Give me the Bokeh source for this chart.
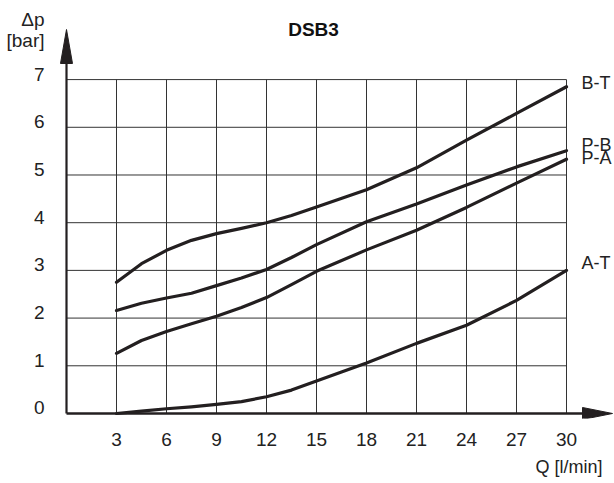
from bokeh.plotting import figure
from bokeh.models import Range1d, FixedTicker, Label, LinearAxis
from bokeh.embed import file_html
from bokeh.resources import INLINE

# ---- data ----
q = [3, 4.5, 6, 7.5, 9, 10.5, 12, 13.5, 15, 18, 21, 24, 27, 30]
bt = [2.75, 3.14, 3.42, 3.63, 3.77, 3.88, 4.00, 4.15, 4.33, 4.69, 5.15, 5.73, 6.29, 6.85]
pb = [2.16, 2.31, 2.42, 2.52, 2.68, 2.84, 3.02, 3.27, 3.54, 4.02, 4.39, 4.79, 5.17, 5.51]
pa = [1.26, 1.53, 1.72, 1.88, 2.04, 2.22, 2.43, 2.70, 2.98, 3.43, 3.84, 4.32, 4.83, 5.33]
at = [0.0, 0.05, 0.10, 0.14, 0.19, 0.25, 0.35, 0.49, 0.68, 1.06, 1.47, 1.85, 2.37, 3.00]
series = [("B-T", bt, 4), ("P-B", pb, 6), ("P-A", pa, 1), ("A-T", at, 7)]
x_ticks = [3, 6, 9, 12, 15, 18, 21, 24, 27, 30]
y_ticks = [0, 1, 2, 3, 4, 5, 6, 7]
title_text = "DSB3"
y_unit_labels = {7.82: "[bar]", 8.26: "\u0394p"}
x_unit_label = {30.15: "Q [l/min]"}

FONT = "Liberation Sans"
INK = "#231f20"
TXT = "#222222"
PX_X = 16.667  # px per Q unit
PX_Y = 47.7    # px per bar
Y_LABEL_LIFT = 5.5 / PX_Y  # numbers sit slightly above their grid line

p = figure(width=614, height=483, output_backend="svg", toolbar_location=None,
           x_range=Range1d(-1.08, 32.88), y_range=Range1d(-0.105, 8.658),
           min_border_left=48, min_border_right=0, min_border_top=0,
           min_border_bottom=65)
p.outline_line_color = None
p.grid.visible = False
p.background_fill_color = "white"
p.border_fill_color = "white"

x2 = LinearAxis()
p.add_layout(x2, "below")


def style_axis(ax, ticks, size="19px"):
    ax.ticker = FixedTicker(ticks=ticks)
    ax.axis_line_color = None
    ax.major_tick_line_color = None
    ax.minor_tick_line_color = None
    ax.major_tick_out = 0
    ax.major_tick_in = 0
    ax.major_label_text_font = FONT
    ax.major_label_text_font_size = size
    ax.major_label_text_color = TXT


style_axis(p.xaxis[0], x_ticks)
y_label_pos = [v + Y_LABEL_LIFT for v in y_ticks]
overrides = {pos: str(v) for pos, v in zip(y_label_pos, y_ticks)}
overrides.update(y_unit_labels)
style_axis(p.yaxis[0], y_label_pos + list(y_unit_labels.keys()))
p.yaxis[0].major_label_overrides = overrides
style_axis(x2, list(x_unit_label.keys()), "18px")
x2.major_label_overrides = dict(x_unit_label)
x2.major_label_standoff = 8
p.xaxis[0].major_label_standoff = 14
p.yaxis[0].major_label_standoff = 4

# grid segments
xmax = x_ticks[-1]
ymax = y_ticks[-1]
p.segment(x0=x_ticks, y0=[0] * len(x_ticks), x1=x_ticks, y1=[ymax] * len(x_ticks),
          line_color="#333333", line_width=1)
hy = y_ticks[1:]
p.segment(x0=[0] * len(hy), y0=hy, x1=[xmax] * len(hy), y1=hy,
          line_color="#333333", line_width=1)

# axis arrows
x_tip = 32.76
y_tip = 8.05
p.line(x=[0, x_tip - 1.0], y=[0, 0], line_color=INK, line_width=2.5)
p.line(x=[0, 0], y=[0, y_tip - 0.4], line_color=INK, line_width=2.2)
p.patch(x=[x_tip, x_tip - 30 / PX_X, x_tip - 30 / PX_X],
        y=[0, 6 / PX_Y, -6 / PX_Y], fill_color=INK, line_color=INK)
p.patch(x=[0, -6 / PX_X, 6 / PX_X],
        y=[y_tip, y_tip - 34 / PX_Y, y_tip - 34 / PX_Y], fill_color=INK, line_color=INK)

# curves
for name, ys, off in series:
    p.line(x=q, y=ys, line_color=INK, line_width=3.2, line_join="round", line_cap="round")
    p.add_layout(Label(x=q[-1], y=ys[-1], text=name, x_offset=15, y_offset=off,
                       text_font=FONT, text_font_size="18px", text_color=TXT,
                       text_baseline="middle", text_align="left"))

# title (data units, inside frame)
p.add_layout(Label(x=14.82, y=8.06, text=title_text,
                   text_font=FONT, text_font_size="19px", text_font_style="bold",
                   text_color="#111111", text_align="center", text_baseline="middle"))

open("out.html", "w").write(file_html(p, INLINE))
